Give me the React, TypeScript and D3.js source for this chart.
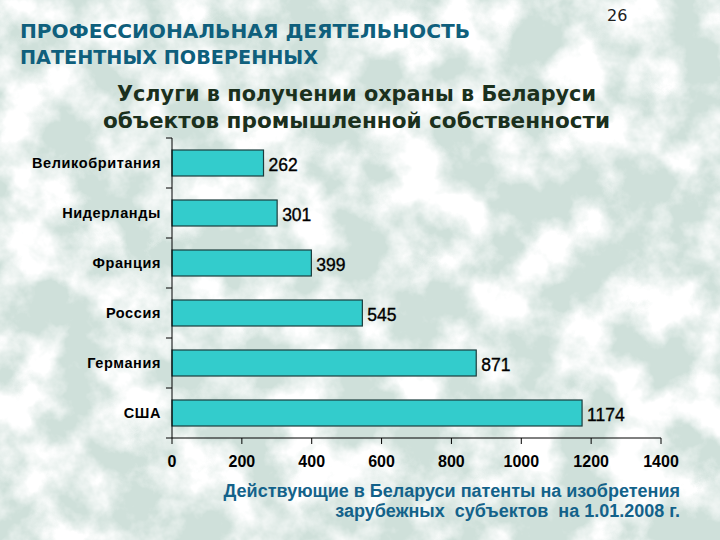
import React from 'react';
import * as d3 from 'd3';

const countries = ['Великобритания', 'Нидерланды', 'Франция', 'Россия', 'Германия', 'США'];
const patents = [262, 301, 399, 545, 871, 1174];
const xTicks = [0, 200, 400, 600, 800, 1000, 1200, 1400];

const W = 720;
const H = 540;

export default function App() {
  const x = d3.scaleLinear().domain([0, 1400]).range([172, 661]);
  const y = d3.scaleBand<string>().domain(countries).range([138, 438]).paddingInner(0.48).paddingOuter(0.24);
  const bandStep = y.step();
  const catTicks = d3.range(countries.length + 1).map(i => 138 + i * bandStep);

  return (
    <svg width={W} height={H} style={{ position: 'absolute', left: 0, top: 0 }}>
      <defs>
        <filter id="marble" x="0" y="0" width="100%" height="100%">
          <feTurbulence type="fractalNoise" baseFrequency="0.018" numOctaves={5} seed={7} />
          <feColorMatrix type="matrix" values="0 0 0 0 1  0 0 0 0 1  0 0 0 0 1  3.6 0 0 0 -1.4" />
        </filter>
      </defs>
      {/* marble-ish background */}
      <rect width={W} height={H} fill="#cfe0da" />
      <rect width={W} height={H} filter="url(#marble)" />

      {/* headings */}
      <g fontFamily="'DejaVu Sans', sans-serif" fontWeight="bold" fill="#0f5f7c">
        <text x={20} y={38} fontSize={19.5} textLength={450} lengthAdjust="spacingAndGlyphs">ПРОФЕССИОНАЛЬНАЯ ДЕЯТЕЛЬНОСТЬ</text>
        <text x={20} y={64} fontSize={19.5} textLength={298} lengthAdjust="spacingAndGlyphs">ПАТЕНТНЫХ ПОВЕРЕННЫХ</text>
      </g>
      <text x={607} y={21} fontFamily="'DejaVu Sans', sans-serif" fontSize={16} fill="#222">26</text>
      <g fontFamily="'DejaVu Sans', sans-serif" fontWeight="bold" fill="#1b301d" fontSize={21}>
        <text x={117} y={101} textLength={479} lengthAdjust="spacingAndGlyphs">Услуги в получении охраны в Беларуси</text>
        <text x={103} y={128} textLength={507} lengthAdjust="spacingAndGlyphs">объектов промышленной собственности</text>
      </g>

      {/* bars */}
      {countries.map((c, i) => (
        <g key={c}>
          <rect x={x(0)} y={y(c)} width={x(patents[i]) - x(0)} height={y.bandwidth()}
            fill="#33cccc" stroke="#1c3c3c" strokeWidth={1.2} />
          <text x={x(patents[i]) + 5} y={(y(c) ?? 0) + y.bandwidth() / 2 + 8}
            fontFamily="'Liberation Sans', Arial, sans-serif" fontSize={17.5} fill="#000"
            stroke="#000" strokeWidth={0.35}>{patents[i]}</text>
          <text x={161} y={(y(c) ?? 0) + y.bandwidth() / 2 + 5} textAnchor="end"
            fontFamily="'Liberation Sans', Arial, sans-serif" fontWeight="bold" fontSize={14.5}
            letterSpacing={0.6} fill="#000">{c}</text>
        </g>
      ))}

      {/* y axis */}
      <line x1={172} x2={172} y1={138} y2={438} stroke="#000" strokeWidth={1} />
      {catTicks.map(t => (
        <line key={t} x1={166} x2={172} y1={t} y2={t} stroke="#000" strokeWidth={1} />
      ))}

      {/* x axis */}
      <line x1={x(0)} x2={x(1400)} y1={438} y2={438} stroke="#000" strokeWidth={1} />
      {xTicks.map(t => (
        <g key={t}>
          <line x1={x(t)} x2={x(t)} y1={438} y2={444} stroke="#000" strokeWidth={1} />
          <text x={x(t)} y={467} textAnchor="middle" fontFamily="'Liberation Sans', Arial, sans-serif"
            fontWeight="bold" fontSize={16} fill="#000">{t}</text>
        </g>
      ))}

      {/* footnote */}
      <g fontFamily="'Liberation Sans', Arial, sans-serif" fontWeight="bold" fontSize={18} fill="#13628a" textAnchor="end">
        <text x={680} y={497}>Действующие в Беларуси патенты на изобретения</text>
        <text x={680} y={517} style={{ whiteSpace: 'pre' }}>зарубежных  субъектов  на 1.01.2008 г.</text>
      </g>
    </svg>
  );
}
